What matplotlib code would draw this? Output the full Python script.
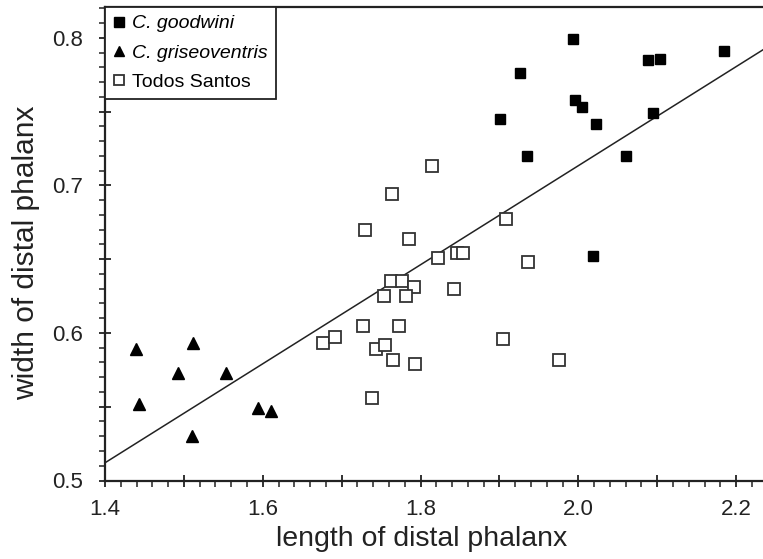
import numpy as np
import matplotlib
matplotlib.use('Agg')
from matplotlib import pyplot as plt
from matplotlib.ticker import MultipleLocator, FuncFormatter

plt.rcParams['font.family'] = ['Liberation Sans', 'DejaVu Sans']

# C. goodwini (filled squares)
goodwini_x = [1.993, 1.926, 1.901, 1.996, 2.004, 2.022, 1.935, 2.060, 2.088, 2.103, 2.094, 2.185, 2.018]
goodwini_y = [0.799, 0.776, 0.745, 0.758, 0.753, 0.742, 0.720, 0.720, 0.785, 0.786, 0.749, 0.791, 0.652]

# C. griseoventris (triangles)
gris_x = [1.439, 1.512, 1.493, 1.553, 1.443, 1.594, 1.611, 1.510]
gris_y = [0.589, 0.593, 0.573, 0.573, 0.552, 0.549, 0.547, 0.530]

# Todos Santos (open squares)
ts_x = [1.814, 1.764, 1.729, 1.785, 1.908, 1.822, 1.846, 1.854, 1.936, 1.762, 1.776,
        1.792, 1.753, 1.781, 1.842, 1.727, 1.773, 1.676, 1.692, 1.744, 1.755, 1.765,
        1.793, 1.739, 1.905, 1.975]
ts_y = [0.713, 0.694, 0.670, 0.664, 0.677, 0.651, 0.654, 0.654, 0.648, 0.635, 0.635,
        0.631, 0.625, 0.625, 0.630, 0.605, 0.605, 0.593, 0.597, 0.589, 0.592, 0.582,
        0.579, 0.556, 0.596, 0.582]

# regression line end points
line_x = [1.4, 2.234]
line_y = [0.512, 0.792]

fig = plt.figure(figsize=(7.63, 5.59), dpi=100)
ax = fig.add_axes([105/763, 78.5/559, 658/763, 473.5/559])

ax.plot(line_x, line_y, color='#222222', lw=1.1, zorder=1)
ax.plot(goodwini_x, goodwini_y, 's', color='black', ms=7.5, ls='none',
        label='C. goodwini', zorder=3)
ax.plot(gris_x, gris_y, '^', color='black', ms=8, ls='none',
        label='C. griseoventris', zorder=3)
ax.plot(ts_x, ts_y, 's', mfc='white', mec='#333333', mew=1.3, ms=8.5, ls='none',
        label='Todos Santos', zorder=2)

ax.set_xlim(1.4, 2.234)
ax.set_ylim(0.5, 0.821)

ax.xaxis.set_major_locator(MultipleLocator(0.1))
ax.xaxis.set_minor_locator(MultipleLocator(0.02))
ax.yaxis.set_major_locator(MultipleLocator(0.05))
ax.yaxis.set_minor_locator(MultipleLocator(0.01))

def xfmt(v, pos):
    n = int(round(v * 10))
    return '%.1f' % v if n % 2 == 0 else ''

def yfmt(v, pos):
    n = int(round(v * 100))
    return '%.1f' % v if n % 10 == 0 else ''

ax.xaxis.set_major_formatter(FuncFormatter(xfmt))
ax.yaxis.set_major_formatter(FuncFormatter(yfmt))

ax.tick_params(which='major', direction='inout', length=9, width=1.3,
               labelsize=16, colors='#222222')
ax.tick_params(axis='x', which='major', pad=9)
ax.tick_params(axis='y', which='major', pad=11)
ax.tick_params(which='minor', direction='out', length=4, width=1.1, colors='#222222')

for s in ['left', 'bottom', 'top']:
    ax.spines[s].set_linewidth(1.6)
    ax.spines[s].set_color('#222222')
ax.spines['right'].set_visible(False)

ax.set_xlabel('length of distal phalanx', fontsize=20.5, color='#222222')
ax.set_ylabel('width of distal phalanx', fontsize=21.5, color='#222222')
ax.xaxis.set_label_coords(0.481, -0.097)
ax.yaxis.set_label_coords(-0.099, 0.4815)

leg = ax.legend(loc='upper left', borderaxespad=0, fancybox=False, framealpha=1,
                edgecolor='#222222', fontsize=14, handlelength=0.6,
                handletextpad=0.4, labelspacing=0.6, borderpad=0.4, markerscale=0.9)
leg.get_frame().set_linewidth(1.3)
for t in leg.get_texts()[:2]:
    t.set_fontstyle('italic')

fig.savefig('out.png', dpi=100)
